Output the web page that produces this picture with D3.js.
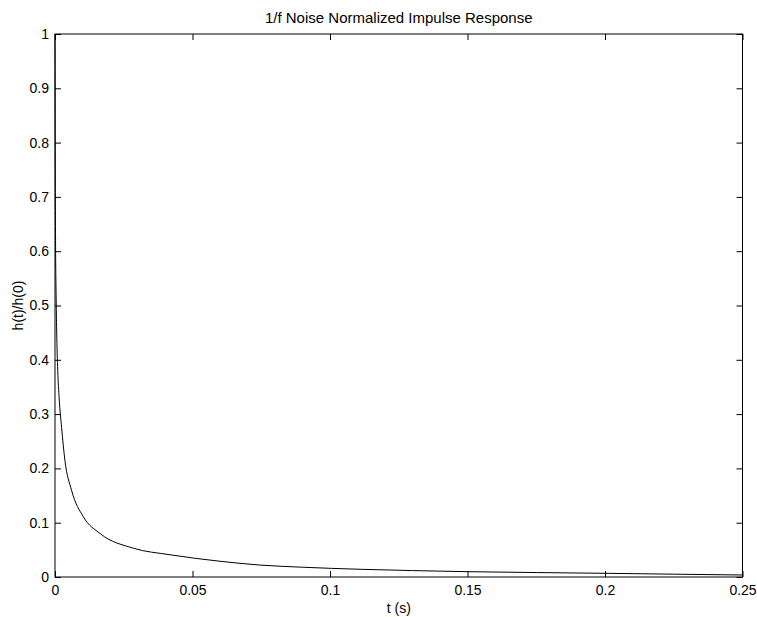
<!DOCTYPE html>
<html>
<head>
<meta charset="utf-8">
<script src="https://cdn.jsdelivr.net/npm/d3@7"></script>
<style>
  body { margin: 0; background: #fff; }
  text { font-family: "Liberation Sans", Arial, sans-serif; fill: #000; }
</style>
</head>
<body>
<div id="chart"></div>
<script>
// values
const timeValues = [0, 0.0001, 0.0002, 0.0004, 0.0006, 0.001, 0.0015, 0.0024, 0.0036, 0.006,
  0.0103, 0.0164, 0.0285, 0.0418, 0.06, 0.0745, 0.09, 0.111, 0.13, 0.15, 0.175, 0.2, 0.225, 0.25];
const responseValues = [1, 0.75, 0.62, 0.52, 0.455, 0.38, 0.33, 0.275, 0.215, 0.16,
  0.111, 0.08, 0.053, 0.041, 0.029, 0.022, 0.018, 0.0142, 0.0118, 0.0098, 0.0082, 0.0068, 0.0052, 0.0037];
const xTicks = [0, 0.05, 0.1, 0.15, 0.2, 0.25];
const yTicks = [0, 0.1, 0.2, 0.3, 0.4, 0.5, 0.6, 0.7, 0.8, 0.9, 1];

const titleText = "1/f Noise Normalized Impulse Response";
const xLabel = "t (s)";
const yLabel = "h(t)/h(0)";

const W = 757, H = 617;
const margin = { top: 34, right: 14.5, bottom: 40, left: 55 };
const width = W - margin.left - margin.right;
const height = H - margin.top - margin.bottom;

const svg = d3.select("#chart").append("svg")
  .attr("width", W)
  .attr("height", H);

const chart = svg.append("g")
  .attr("transform", `translate(${margin.left}, ${margin.top})`);

const x = d3.scaleLinear().domain([0, 0.25]).range([0, width]);
const y = d3.scaleLinear().domain([0, 1]).range([height, 0]);

const fmt = d => d3.format("~g")(d);
const tickLen = 6;
const fontSize = 14;

// ticks on all four sides, pointing inward
chart.append("g")
  .attr("transform", `translate(0, ${height})`)
  .call(d3.axisBottom(x).tickValues(xTicks).tickFormat(fmt).tickSizeInner(-tickLen).tickSizeOuter(0).tickPadding(8))
  .call(g => g.select(".domain").remove())
  .call(g => g.selectAll("text").attr("font-size", fontSize));

chart.append("g")
  .call(d3.axisTop(x).tickValues(xTicks).tickFormat("").tickSizeInner(-tickLen).tickSizeOuter(0))
  .call(g => g.select(".domain").remove());

chart.append("g")
  .call(d3.axisLeft(y).tickValues(yTicks).tickFormat(fmt).tickSizeInner(-tickLen).tickSizeOuter(0).tickPadding(6))
  .call(g => g.select(".domain").remove())
  .call(g => g.selectAll("text").attr("font-size", fontSize));

chart.append("g")
  .attr("transform", `translate(${width}, 0)`)
  .call(d3.axisRight(y).tickValues(yTicks).tickFormat("").tickSizeInner(-tickLen).tickSizeOuter(0))
  .call(g => g.select(".domain").remove());

// box
chart.append("rect")
  .attr("width", width)
  .attr("height", height)
  .attr("fill", "none")
  .attr("stroke", "#000")
  .attr("stroke-width", 1);

const points = timeValues.map((t, i) => ({ t: t, v: responseValues[i] }));

const line = d3.line()
  .x(d => x(d.t))
  .y(d => y(d.v))
  .curve(d3.curveMonotoneX);

chart.append("path")
  .datum(points)
  .attr("d", line)
  .attr("fill", "none")
  .attr("stroke", "#000")
  .attr("stroke-width", 1);

// title and labels
chart.append("text")
  .attr("x", width / 2)
  .attr("y", -11)
  .attr("text-anchor", "middle")
  .attr("font-size", 15)
  .text(titleText);

chart.append("text")
  .attr("x", width / 2)
  .attr("y", height + 36)
  .attr("text-anchor", "middle")
  .attr("font-size", fontSize)
  .text(xLabel);

chart.append("text")
  .attr("transform", "rotate(-90)")
  .attr("x", -height / 2)
  .attr("y", -32)
  .attr("text-anchor", "middle")
  .attr("font-size", fontSize)
  .text(yLabel);
</script>
</body>
</html>
